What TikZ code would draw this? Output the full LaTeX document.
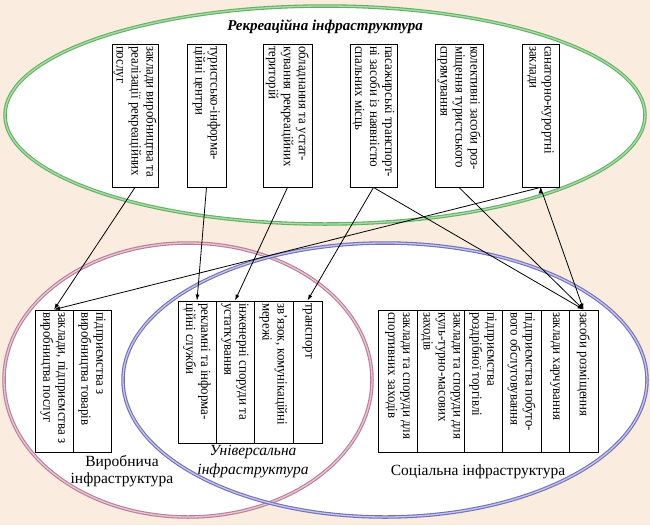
\documentclass[tikz,border=0pt]{standalone}
\usepackage{fontspec}
\setmainfont{Liberation Serif}
\newfontfamily\cellfont[FakeStretch=0.92]{Liberation Serif}
\usetikzlibrary{arrows.meta}
\definecolor{bgpeach}{RGB}{250,236,223}
\definecolor{rgreen}{RGB}{95,178,95}
\definecolor{vpink}{RGB}{188,122,152}
\definecolor{ublue}{RGB}{112,112,190}
\tikzset{cell/.style={draw,line width=0.9pt,fill=white,rotate=-90,inner xsep=2pt,inner ysep=1pt,align=flush left,font=\cellfont\fontsize{14}{15}\selectfont}  }
\tikzset{ring/.style={line width=1.1pt,double distance=1.3pt}  }
\tikzset{>={Latex[length=6pt,width=4pt]}}

\begin{document}
\begin{tikzpicture}[x=1pt,y=-1pt]
    \useasboundingbox (0,0) rectangle (650,525);
    \fill[bgpeach] (0,0) rectangle (650,525);

    % ellipses: fills first, outlines after
    \fill[white] (325,115) ellipse [x radius=320pt,y radius=109pt];
    \fill[white] (188,380) ellipse [x radius=184pt,y radius=137pt];
    \fill[white] (385,380) ellipse [x radius=262pt,y radius=137pt];
    \draw[ring,draw=rgreen,double=rgreen!50] (325,115) ellipse [x radius=320pt,y radius=109pt];
    \draw[ring,draw=vpink,double=vpink!40] (188,380) ellipse [x radius=184pt,y radius=137pt];
    \draw[ring,draw=ublue,double=ublue!40] (385,380) ellipse [x radius=262pt,y radius=137pt];

    \node[font=\fontsize{15}{18}\selectfont\bfseries\itshape] (rtitle) at (325,27) {Рекреаційна інфраструктура};

    % recreational
    \node[cell,text width=139pt,minimum height=46pt] (r1) at (135,115.5) {заклади виробництва та\\реалізації рекреаційних\\послуг};
    \node[cell,text width=139pt,minimum height=39pt] (r2) at (206.5,115.5) {туристсько-інформа-\\ційні центри};
    \node[cell,text width=139pt,minimum height=49pt] (r3) at (287.5,115.5) {обладнання та устат-\\кування рекреаційних\\територій};
    \node[cell,text width=139pt,minimum height=47pt] (r4) at (373.5,115.5) {пасажирські транспорт-\\ні засоби із наявністю\\спальних місць};
    \node[cell,text width=139pt,minimum height=48pt] (r5) at (459,115.5) {колективні засоби роз-\\міщення туристського\\спрямування};
    \node[cell,text width=139pt,minimum height=37pt] (r6) at (540.5,115.5) {санаторно-курортні\\заклади};

    % production
    \node[cell,text width=138pt,minimum height=38pt] (v1) at (54,381) {заклади, підприємства з\\виробництва послуг};
    \node[cell,text width=138pt,minimum height=38pt] (v2) at (92,381) {підприємства з\\виробництва товарів};

    % universal
    \node[cell,text width=138pt,minimum height=38pt] (u1) at (197,372) {рекламні та інформа-\\ційні служби};
    \node[cell,text width=138pt,minimum height=38pt] (u2) at (235,372) {інженерні споруди та\\устаткування};
    \node[cell,text width=138pt,minimum height=39pt] (u3) at (273.5,372) {зв’язок, комунікаційні\\мережі};
    \node[cell,text width=138pt,minimum height=29pt] (u4) at (307.5,372) {транспорт};

    % social
    \node[cell,text width=138pt,minimum height=39pt] (s1) at (397.5,381) {заклади та споруди для\\спортивних заходів};
    \node[cell,text width=138pt,minimum height=47pt] (s2) at (440.5,381) {заклади та споруди для\\куль-турно-масових\\заходів};
    \node[cell,text width=138pt,minimum height=38pt] (s3) at (483,381) {підприємства\\роздрібної торгівлі};
    \node[cell,text width=138pt,minimum height=39pt] (s4) at (521.5,381) {підприємства побуто-\\вого обслуговування};
    \node[cell,text width=138pt,minimum height=28pt] (s5) at (555,381) {заклади харчування};
    \node[cell,text width=138pt,minimum height=29pt] (s6) at (583.5,381) {засоби розміщення};

    \node[align=center,font=\fontsize{15.5}{17.5}\selectfont] (vlabel) at (122,471) {Виробнича\\інфраструктура};
    \node[align=center,font=\fontsize{15.5}{19}\selectfont\itshape] (ulabel) at (253,462) {Універсальна\\інфраструктура};
    \node[font=\fontsize{15.5}{18}\selectfont] (slabel) at (478,472) {Соціальна інфраструктура};

    \draw[->,line width=0.8pt]
      (r1.east) edge (v1.west)
      (r2.east) edge (u1.west)
      (r3.east) edge (u2.west)
      (r4.east) edge (u4.west)
      (r4.east) edge (s6.west)
      (r5.east) edge (s6.west)
      (r6.east) edge (s6.west)
      (r6.east) edge (v1.west);

\end{tikzpicture}
\end{document}
